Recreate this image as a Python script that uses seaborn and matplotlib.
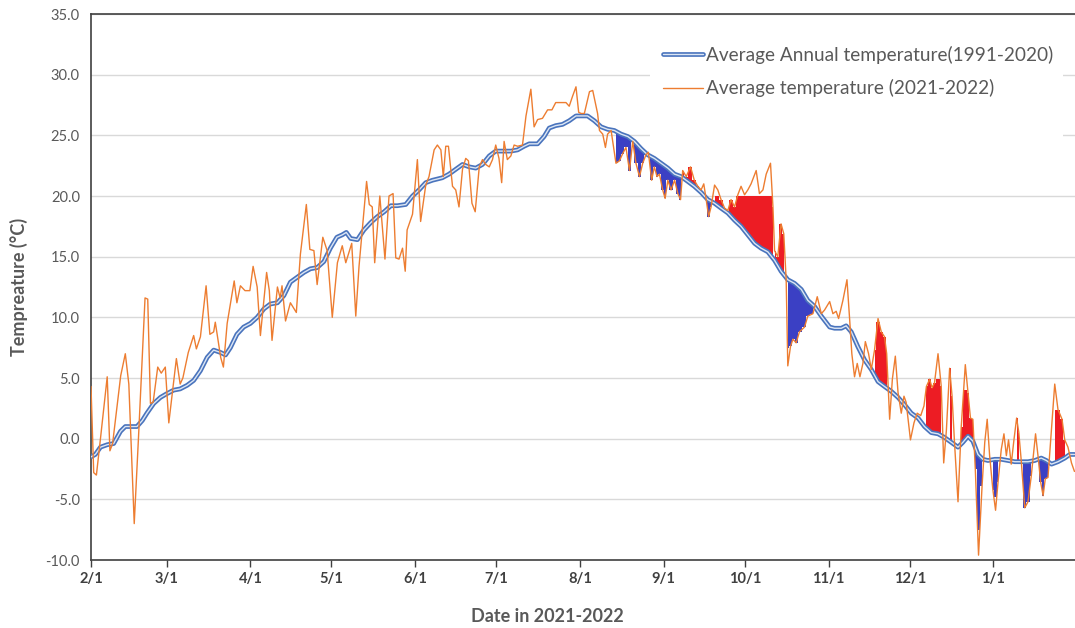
import numpy as np
import pandas as pd
import matplotlib
matplotlib.use("Agg")
import matplotlib.pyplot as plt
import matplotlib.patheffects as pe
from matplotlib.patches import Rectangle
import seaborn as sns

# ------------------------------------
# Data
# day = days since 2021-02-01
# ------------------------------------
start_date = "2021-02-01"

avg_days = [0, 1.6, 3.5, 6, 8.4, 10.9, 12.7, 14.6, 17, 19, 20.7, 23.2, 25.7, 28, 30.6, 33, 35.6, 38,
            40.5, 43, 45.4, 48, 49.8, 51.6, 54, 56.5, 59, 61.5, 64, 66.4, 69, 71.4, 73.8, 76.3, 78.8,
            81.2, 83.7, 86.2, 88.6, 91, 93, 94.5, 96.1, 98.6, 101, 103.5, 106, 108.5, 111, 113.4,
            116.5, 119, 121.4, 123.9, 126.4, 130, 132.5, 135, 137.5, 140, 142.4, 144.9, 147.4, 149.8,
            152.3, 155.4, 157.9, 160.3, 162.2, 165.3, 167.7, 169.6, 172, 174.5, 177, 179.5, 181.4,
            183.8, 186.3, 188.8, 191.2, 193.7, 196.2, 198.7, 201.1, 203.6, 206, 208.5, 211, 213.5,
            216, 218.4, 220.9, 223.3, 225.8, 228.3, 230.8, 233.2, 235.7, 238.2, 240.6, 243.1, 245.6,
            248, 250.5, 253, 255.4, 257.9, 260.4, 262.9, 265.3, 267.8, 270.3, 273.4, 275.2, 277.7,
            279.5, 281.4, 283.8, 286.3, 288.8, 291.3, 293.7, 296.2, 298.7, 301.1, 303.6, 306.1,
            308.5, 311, 313.5, 315.9, 318.4, 320.9, 322.7, 324.6, 326.4, 328.3, 330.1, 332, 334.5,
            336.9, 339.4, 341.9, 344.3, 346.8, 349.3, 351.7, 353.6, 355.5, 357.9, 360.4, 362.3, 364]
avg_temp = [-1.5, -1.3, -0.7, -0.5, -0.4, 0.6, 1.0, 1.0, 1.0, 1.5, 2.1, 2.9, 3.4, 3.7, 4.0, 4.1, 4.4, 4.8,
            5.6, 6.7, 7.3, 7.1, 6.9, 7.5, 8.6, 9.2, 9.5, 10.0, 10.7, 11.1, 11.2, 11.8, 12.9, 13.3, 13.7,
            14.0, 14.1, 14.6, 15.7, 16.6, 16.8, 17.0, 16.5, 16.4, 17.2, 17.8, 18.3, 18.7, 19.2, 19.2,
            19.3, 20.0, 20.5, 21.1, 21.3, 21.5, 21.8, 22.2, 22.6, 22.4, 22.3, 22.6, 23.3, 23.7,
            23.7, 23.7, 23.8, 24.1, 24.3, 24.3, 24.9, 25.6, 25.8, 25.9, 26.2, 26.6, 26.6,
            26.6, 26.2, 25.7, 25.5, 25.4, 25.1, 24.9, 24.5, 23.9, 23.4, 23.1, 22.7, 22.3,
            21.8, 21.6, 21.2, 20.8, 20.3, 19.7, 19.4, 19.0, 18.6, 18.0, 17.5, 16.8, 16.1,
            15.7, 15.4, 14.7, 13.8, 13.1, 12.8, 12.3, 11.4, 10.9, 10.1, 9.2, 9.1, 9.1,
            9.3, 8.8, 7.6, 6.5, 5.7, 4.7, 4.3, 3.9, 3.4, 2.8, 2.1, 1.7,
            1.0, 0.5, 0.4, 0.1, -0.3, -0.7, -0.3, 0.2, -0.2, -1.3, -1.7, -1.8, -1.7,
            -1.7, -1.8, -1.9, -1.9, -1.9, -1.8, -1.6, -1.8, -2.1, -1.9, -1.6, -1.3, -1.3]

obs_days = [0, 1, 2, 3.5, 6, 7, 8, 11, 12.7, 14, 16, 17.6, 20, 21, 22, 23, 24.7, 26, 27.5, 28.8,
            31.6, 33, 34, 36, 38, 39, 40.5, 42.6, 44, 45.4, 46, 48, 49, 50.4, 53, 54, 55.3, 57, 58.8,
            60, 61.5, 62.7, 65, 66, 67, 69, 70, 70.7, 72, 73.8, 76, 77.5, 79.7, 81, 82.5, 83.7, 85.8,
            87.4, 89.3, 91.2, 93, 94.3, 96.5, 98, 99.2, 100.4, 102, 103, 104.1, 105, 106.9, 108.8,
            110.3, 111.8, 112.8, 114, 115.3, 116.3, 117, 119, 120.8, 122, 123.9, 125.1, 127, 128.2,
            129.5, 130.4, 131.3, 132.3, 133.8, 135, 136.2, 137.5, 138.7, 139.7, 141, 142.2, 143.7,
            144.9, 146.1, 147.4, 148.6, 149.8, 151, 152, 152.9, 154.1, 155.4, 156.6, 157.9, 159.7,
            161, 162.8, 164, 165.3, 167.1, 169, 170.6, 172, 173.9, 175.8, 177, 178.2, 179.5, 180.5,
            181.4, 182.6, 184.5, 185.7, 187.5, 188.2, 189.4, 190.4, 191.2, 192.5, 194.3, 195.6,
            196.8, 198, 199.3, 200.5, 201.7, 203, 204.2, 205.4, 206.3, 207.5, 208.5, 209.5, 210.4,
            211.6, 212.5, 213.5, 214.7, 216, 217.2, 218.2, 219, 220.3, 221.9, 223.3, 224.6, 225.8,
            226.8, 227.7, 228.6, 229.5, 230.8, 232, 233.2, 234.5, 235.7, 236.9, 238.2, 239.4, 240.6,
            241.9, 243.1, 244.3, 246.2, 247.4, 248.7, 249.9, 251.5, 252.4, 253, 254.2, 255.4, 256.4,
            257.3, 257.9, 258.9, 259.8, 261, 262.2, 264.1, 265.3, 267.2, 268.8, 270.3, 271.5, 273.4,
            274.6, 275.8, 276.7, 278.3, 279.8, 280.8, 281.6, 282.6, 283.6, 284.6, 285.7, 286.6,
            287.8, 288.8, 290, 291.3, 292.5, 293.7, 294.5, 295.6, 296.6, 297.7, 298.7, 299.9, 300.9,
            301.7, 303.3, 304.6, 305.8, 307.1, 308.3, 309.2, 310.4, 311.3, 312.2, 313.5, 314.7,
            315.6, 316.6, 317.8, 318.7, 319.6, 320.9, 322.1, 323.6, 324.6, 325.5, 326.4, 327.3,
            328.5, 329.8, 330.8, 331.7, 332.6, 333.8, 334.8, 335.7, 336.9, 337.9, 338.8, 339.6,
            340.6, 341.6, 342.6, 343.4, 344.3, 345.6, 346.8, 348, 349.6, 350.5, 351.5, 352.4, 353.2,
            354.2, 355.2, 356.7, 357.9, 359.4, 360.4, 361.6, 362.9, 364]
obs_temp = [4.3, -2.8, -3.0, 0.0, 5.1, -1.0, -0.4, 5.2, 7.0, 4.5, -7.0, 0.2, 11.6, 11.5, 2.9, 3.0, 5.9, 5.4, 5.9, 1.3,
            6.6, 4.5, 5.0, 7.1, 8.5, 7.4, 8.4, 12.6, 8.6, 8.8, 9.6, 6.7, 5.9, 9.5, 13.0, 11.2, 12.6, 12.2, 12.2,
            14.2, 12.5, 8.5, 13.7, 12.2, 8.1, 12.5, 11.6, 12.6, 9.7, 11.2, 10.4, 15.2, 19.3, 15.6, 15.5, 12.7, 16.6,
            15.5, 10.0, 14.5, 15.9, 14.5, 16.1, 10.1, 14.2, 17.2, 21.2, 19.3, 19.1, 14.5, 20.0, 14.8,
            20.0, 20.2, 14.9, 14.8, 15.7, 13.8, 17.2, 18.5, 23.0, 17.9, 20.9, 21.6, 23.8, 24.2,
            23.8, 21.6, 24.1, 24.1, 20.8, 20.5, 19.1, 22.2, 23.1, 22.9, 19.4, 18.7, 22.4,
            23.0, 22.6, 22.4, 23.0, 24.2, 23.1, 21.1, 24.5, 23.0, 23.3, 24.2, 24.1, 24.2,
            26.6, 28.8, 25.7, 26.3, 26.4, 27.1, 27.1, 27.7, 27.7, 27.7, 27.4, 28.2, 29.0, 26.9,
            26.8, 26.8, 28.6, 28.7, 26.8, 25.4, 25.1, 24.0, 25.1, 25.4, 22.7, 22.9,
            23.5, 24.0, 22.1, 24.5, 22.7, 21.6, 22.7, 23.4, 23.6, 21.3, 22.4, 21.6, 21.8,
            20.5, 19.8, 21.3, 20.5, 21.3, 20.2, 19.7, 22.1, 21.6, 22.4, 21.3, 20.8, 20.5,
            21.0, 19.7, 18.3, 19.1, 20.9, 20.5, 19.7, 19.0, 18.8, 19.7, 19.1, 20.1, 20.8,
            20.1, 20.5, 21.0, 22.1, 20.2, 20.5, 21.8, 22.7, 19.1, 15.5, 15.0, 17.7, 16.9,
            13.1, 6.0, 7.6, 8.2, 7.9, 8.8, 9.2, 10.1, 10.3, 11.7, 10.3, 10.6, 11.3,
            10.3, 10.5, 9.9, 11.4, 13.1, 9.8, 7.0, 5.1, 6.2, 5.1, 6.2, 8.0,
            7.0, 5.7, 7.3, 9.9, 8.8, 8.4, 7.0, 1.6, 4.9, 6.8, 3.8, 2.1, 3.5,
            3.0, -0.1, 1.3, 2.1, 1.9, 2.7, 4.3, 4.9, 4.2, 4.6, 7.0, 4.3,
            -2.0, 0.7, 5.8, 3.5, -0.3, -5.2, 1.0, 6.1, 3.8, 1.7, 1.6, -2.5,
            -9.6, -3.9, -0.3, 1.6, -1.4, -4.2, -5.9, -3.6, -0.9, 0.4, -1.4, -0.1,
            -2.1, -0.1, 1.7, 0.5, -1.8, -5.7, -5.2, -3.1, 0.4, -1.4, -3.6, -4.7, -3.3,
            -3.2, -0.1, 4.5, 2.4, 1.6, -0.1, -0.7, -2.0, -2.7]

# highlighted periods: start day, end day, side of the average, cap of the fill
fill_start = [193.5, 219, 227.7, 230.5, 253, 257.9, 290, 309, 317, 322, 327, 333, 342, 344.3, 350.5, 355.5]
fill_end = [218.5, 225.8, 229.5, 252.4, 257, 268, 294.5, 314.7, 318.7, 326.4, 330, 336.5, 343.5, 348.5, 354.5, 361]
fill_side = ["below", "above", "below", "above", "above", "below", "above", "above",
             "above", "above", "below", "below", "above", "below", "below", "above"]
fill_cap = [np.nan, np.nan, np.nan, 20.0, np.nan, 7.5, 9.6, 4.9,
            np.nan, 4.0, -7.5, -4.8, np.nan, np.nan, np.nan, 2.4]

legend_labels = ["Average Annual temperature(1991-2020)", "Average temperature (2021-2022)"]

# ------------------------------------
# Frames
# ------------------------------------
t0 = pd.Timestamp(start_date)
avg_df = pd.DataFrame({"date": t0 + pd.to_timedelta(avg_days, unit="D"), "temp": avg_temp})
obs_df = pd.DataFrame({"date": t0 + pd.to_timedelta(obs_days, unit="D"), "temp": obs_temp})

# ------------------------------------
# Style
# ------------------------------------
sns.set_theme(style="white")
plt.rcParams["font.family"] = ["Lato", "DejaVu Sans"]

fig = plt.figure(figsize=(10.75, 6.28), dpi=100)
ax = fig.add_axes([91 / 1075, 1 - 560 / 628, 984 / 1075, 546 / 628])

# ------------------------------------
# Red / blue highlighted differences
# ------------------------------------
obs_x = np.array(obs_days, dtype=float)
obs_y = np.array(obs_temp, dtype=float)
avg_on_obs = np.interp(obs_x, avg_days, avg_temp)

for s, e, side, cap in zip(fill_start, fill_end, fill_side, fill_cap):
    m = (obs_x >= s) & (obs_x <= e)
    y = obs_y.copy()
    if side == "above":
        if not np.isnan(cap):
            y = np.minimum(y, cap)
        y = np.maximum(y, avg_on_obs)
        color = "#ED1C24"
    else:
        if not np.isnan(cap):
            y = np.maximum(y, cap)
        y = np.minimum(y, avg_on_obs)
        color = "#3B40C4"
    ax.fill_between(obs_df["date"].values[m], avg_on_obs[m], y[m],
                    step="mid", color=color, linewidth=0, zorder=1.8)

# ------------------------------------
# Lines
# ------------------------------------
sns.lineplot(data=avg_df, x="date", y="temp", ax=ax, estimator=None, color="#DCE6F4",
             linewidth=1.0, label=legend_labels[0], zorder=3,
             path_effects=[pe.Stroke(linewidth=3.4, foreground="#4A74BD"), pe.Normal()])
sns.lineplot(data=obs_df, x="date", y="temp", ax=ax, estimator=None, color="#ED7D31",
             linewidth=1.0, label=legend_labels[1], zorder=4)

# ------------------------------------
# Axes
# ------------------------------------
ax.set_ylim(-10, 35)
ax.set_yticks(np.arange(-10, 36, 5))
ax.set_yticklabels([f"{v:.1f}" for v in np.arange(-10, 36, 5)])
ax.yaxis.grid(True, color="#D9D9D9", linewidth=1.0)
ax.set_axisbelow(True)

months = pd.date_range(start_date, "2022-01-01", freq="MS")
ax.set_xticks(months)
ax.set_xticklabels([f"{d.month}/1" for d in months], fontweight="bold")
ax.set_xlim(t0, t0 + pd.Timedelta(days=364.2))

ax.tick_params(axis="y", length=0, labelsize=10.5, labelcolor="#595959", pad=8)
ax.tick_params(axis="x", length=5, width=1, color="#404040", labelsize=10.5,
               labelcolor="#404040", direction="out", bottom=True, pad=4)

for side in ["left", "bottom", "top"]:
    ax.spines[side].set_color("#404040")
    ax.spines[side].set_linewidth(1.2)
ax.spines["right"].set_visible(False)

ax.set_xlabel("Date in 2021-2022", fontsize=13, fontweight="bold", color="#595959")
ax.set_ylabel("Tempreature (°C)", fontsize=13, fontweight="bold", color="#595959")
ax.xaxis.set_label_coords(0.464, -0.088)
ax.yaxis.set_label_coords(-0.064, 0.5)

# legend area (white box over the gridlines)
ax.add_patch(Rectangle((0.568, 0.765), 0.42, 0.21, transform=ax.transAxes,
                       facecolor="white", edgecolor="none", zorder=1.5))
ax.legend(loc="upper right", bbox_to_anchor=(0.995, 0.973), frameon=False, fontsize=13.7,
          handlelength=2.1, handletextpad=0.15, labelspacing=0.8, labelcolor="#595959")

fig.savefig("out.png", dpi=100)
